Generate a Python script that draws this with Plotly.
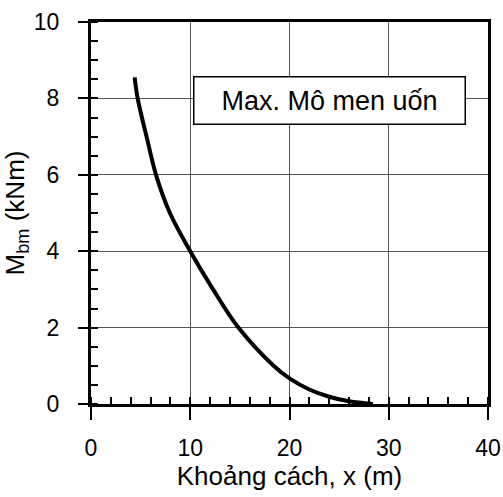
import plotly.graph_objects as go

# Data
distance_m = [4.4, 4.7, 5.6, 6.55, 7.95, 10.0, 12.3, 14.85, 18.4, 20.0, 22.0, 24.0, 26.0, 28.4]
moment_kNm = [8.55, 8.0, 7.0, 6.0, 5.0, 4.0, 3.0, 2.0, 1.0, 0.67, 0.38, 0.19, 0.07, 0.0]

x_ticks = [0, 10, 20, 30, 40]
y_ticks = [0, 2, 4, 6, 8, 10]
label_text = "Max. Mô men uốn"

FONT = "Liberation Sans, Arial, sans-serif"

fig = go.Figure()
fig.add_trace(go.Scatter(
    x=distance_m, y=moment_kNm, mode="lines",
    line=dict(color="black", width=4, shape="spline", smoothing=1.0),
    hoverinfo="skip", showlegend=False,
))
# invisible trace to activate overlay axes (inside part of major ticks)
fig.add_trace(go.Scatter(
    x=distance_m, y=moment_kNm, mode="lines", xaxis="x2", yaxis="y2",
    line=dict(color="rgba(0,0,0,0)", width=0), hoverinfo="skip", showlegend=False,
))

axis_common = dict(
    showline=True, linecolor="black", linewidth=3, mirror=True,
    showgrid=True, gridcolor="#555555", gridwidth=1,
    ticks="outside", tickcolor="black", tickwidth=2,
    zeroline=False, automargin=False,
    tickfont=dict(family=FONT, size=23, color="black"),
)

fig.update_layout(
    width=503, height=497,
    margin=dict(l=91, r=15, t=22, b=93),
    paper_bgcolor="white", plot_bgcolor="white",
    font=dict(family=FONT, color="black"),
    xaxis=dict(
        **axis_common, range=[0, 40], tickvals=x_ticks, ticklen=13,
        ticklabelstandoff=8,
        minor=dict(dtick=2, ticks="inside", ticklen=7, tickwidth=2, tickcolor="black", showgrid=False),
        title=dict(text="Khoảng cách, x (m)", font=dict(family=FONT, size=26), standoff=8),
    ),
    yaxis=dict(
        **axis_common, range=[0, 10], tickvals=y_ticks, ticklen=10,
        ticklabelstandoff=14,
        minor=dict(dtick=0.5, ticks="inside", ticklen=7, tickwidth=2, tickcolor="black", showgrid=False),
        title=dict(text="M<sub>bm</sub> (kNm)", font=dict(family=FONT, size=26), standoff=12),
    ),
    xaxis2=dict(overlaying="x", anchor="y", range=[0, 40], tickvals=x_ticks, ticks="inside",
                ticklen=7, tickwidth=2, tickcolor="black", showticklabels=False,
                showgrid=False, showline=False, zeroline=False),
    yaxis2=dict(overlaying="y", anchor="x", range=[0, 10], tickvals=y_ticks, ticks="inside",
                ticklen=7, tickwidth=2, tickcolor="black", showticklabels=False,
                showgrid=False, showline=False, zeroline=False),
    annotations=[dict(
        x=0.6, y=0.794, xref="paper", yref="paper", xanchor="center", yanchor="middle",
        text=label_text, showarrow=False,
        font=dict(family=FONT, size=27, color="black"),
        bgcolor="white", bordercolor="black", borderwidth=1.5, borderpad=4,
        width=262, height=38,
    )],
)

fig.write_html("out.html")
